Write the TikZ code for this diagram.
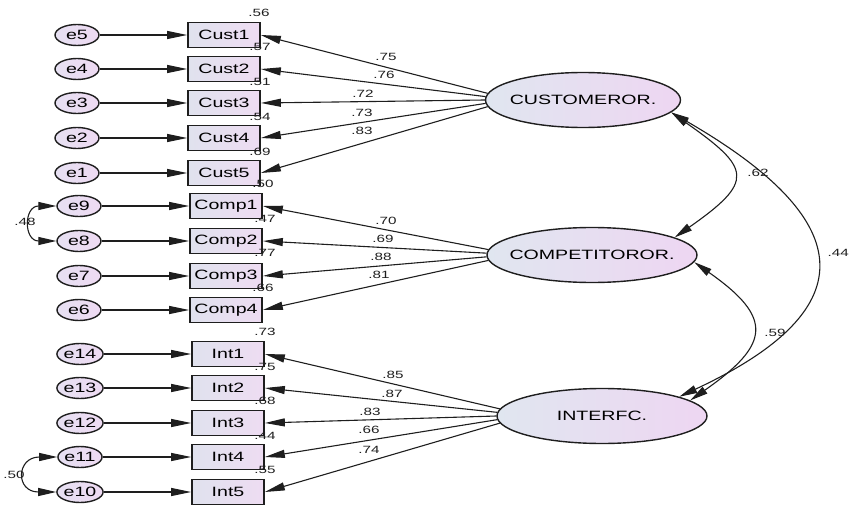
\documentclass[tikz,border=0pt]{standalone}
\usepackage{xcolor}
\usepackage{fontspec}
\setmainfont{Liberation Sans}[FakeStretch=1.45]
\usepackage{tikz}
\usetikzlibrary{shapes.geometric, arrows.meta, positioning, calc}
\definecolor{semline}{RGB}{30,30,30}
\definecolor{boxleft}{RGB}{224,226,238}
\definecolor{boxright}{RGB}{238,220,242}
\definecolor{errleft}{RGB}{230,224,242}
\definecolor{errright}{RGB}{238,218,242}
\definecolor{latleft}{RGB}{224,230,240}
\definecolor{latright}{RGB}{238,214,242}

\begin{document}
\begin{tikzpicture}[
  x=1pt, y=1pt,
  errnode/.style={ellipse, draw=semline, line width=1.4pt, minimum width=44pt, minimum height=21pt, inner sep=0pt, left color=errleft, right color=errright, font=\fontsize{13.5pt}{15pt}\selectfont},
  obsbox/.style={rectangle, draw=semline, line width=1.7pt, minimum width=72pt, minimum height=25pt, inner sep=0pt, left color=boxleft, right color=boxright, font=\fontsize{13.5pt}{15pt}\selectfont},
  latent/.style={ellipse, draw=semline, line width=1.4pt, minimum height=55pt, inner xsep=-14pt, inner ysep=0pt, left color=latleft, right color=latright, font=\fontsize{13.5pt}{15pt}\selectfont},
  lbl/.style={inner sep=0pt, text=semline, font=\fontsize{10.5pt}{11pt}\selectfont},
  arr/.style={-{Triangle[length=20pt, width=8pt]}, line width=1.1pt, semline},
  cov/.style={{Triangle[length=18pt, width=8pt]}-{Triangle[length=18pt, width=8pt]}, line width=1.1pt, semline}
]
  \useasboundingbox (0,0) rectangle (849,-508);
  % Latent factors
  \node[latent, minimum width=195pt] (cust) at (583,-100) {CUSTOMEROR.};
  \node[latent, minimum width=210pt] (comp) at (592,-255) {COMPETITOROR.};
  \node[latent, minimum width=210pt] (intf) at (602,-416) {INTERFC.};
  % Customer items
  \node[obsbox] (cust1) at (224,-35) {Cust1};
  \node[obsbox] (cust2) at (224,-69) {Cust2};
  \node[obsbox] (cust3) at (224,-103) {Cust3};
  \node[obsbox] (cust4) at (224,-138) {Cust4};
  \node[obsbox] (cust5) at (224,-173) {Cust5};
  \node[errnode] (e5) at (77,-35) {e5};
  \node[errnode] (e4) at (77,-69) {e4};
  \node[errnode] (e3) at (77,-103) {e3};
  \node[errnode] (e2) at (77,-138) {e2};
  \node[errnode] (e1) at (77,-173) {e1};
  % Competitor items
  \node[obsbox] (comp1) at (226,-206) {Comp1};
  \node[obsbox] (comp2) at (226,-241) {Comp2};
  \node[obsbox] (comp3) at (226,-276) {Comp3};
  \node[obsbox] (comp4) at (226,-310) {Comp4};
  \node[errnode] (e9) at (79,-206) {e9};
  \node[errnode] (e8) at (79,-241) {e8};
  \node[errnode] (e7) at (79,-276) {e7};
  \node[errnode] (e6) at (79,-310) {e6};
  % Interfunctional items
  \node[obsbox] (int1) at (228,-354) {Int1};
  \node[obsbox] (int2) at (228,-388) {Int2};
  \node[obsbox] (int3) at (228,-423) {Int3};
  \node[obsbox] (int4) at (228,-457) {Int4};
  \node[obsbox] (int5) at (228,-492) {Int5};
  \node[errnode] (e14) at (80,-354) {e14};
  \node[errnode] (e13) at (80,-388) {e13};
  \node[errnode] (e12) at (80,-423) {e12};
  \node[errnode] (e11) at (80,-457) {e11};
  \node[errnode] (e10) at (80,-492) {e10};
  % Error arrows
  \draw[arr] (e5) -- (cust1);
  \draw[arr] (e4) -- (cust2);
  \draw[arr] (e3) -- (cust3);
  \draw[arr] (e2) -- (cust4);
  \draw[arr] (e1) -- (cust5);
  \draw[arr] (e9) -- (comp1);
  \draw[arr] (e8) -- (comp2);
  \draw[arr] (e7) -- (comp3);
  \draw[arr] (e6) -- (comp4);
  \draw[arr] (e14) -- (int1);
  \draw[arr] (e13) -- (int2);
  \draw[arr] (e12) -- (int3);
  \draw[arr] (e11) -- (int4);
  \draw[arr] (e10) -- (int5);
  % Loadings
  \draw[arr] (cust.176) -- (cust1.east);
  \draw[arr] (cust.178) -- (cust2.east);
  \draw[arr] (cust.180) -- (cust3.east);
  \draw[arr] (cust.182) -- (cust4.east);
  \draw[arr] (cust.184) -- (cust5.east);
  \draw[arr] (comp.177) -- (comp1.east);
  \draw[arr] (comp.179) -- (comp2.east);
  \draw[arr] (comp.181) -- (comp3.east);
  \draw[arr] (comp.183) -- (comp4.east);
  \draw[arr] (intf.176) -- (int1.east);
  \draw[arr] (intf.178) -- (int2.east);
  \draw[arr] (intf.180) -- (int3.east);
  \draw[arr] (intf.182) -- (int4.east);
  \draw[arr] (intf.184) -- (int5.east);
  \node[lbl] (l1) at (386,-57) {.75};
  \node[lbl] (l2) at (384,-75) {.76};
  \node[lbl] (l3) at (363,-94) {.72};
  \node[lbl] (l4) at (362,-113) {.73};
  \node[lbl] (l5) at (362,-131) {.83};
  \node[lbl] (l6) at (386,-221) {.70};
  \node[lbl] (l7) at (383,-239) {.69};
  \node[lbl] (l8) at (381,-257) {.88};
  \node[lbl] (l9) at (379,-275) {.81};
  \node[lbl] (l10) at (393,-375) {.85};
  \node[lbl] (l11) at (392,-394) {.87};
  \node[lbl] (l12) at (370,-412) {.83};
  \node[lbl] (l13) at (369,-430) {.66};
  \node[lbl] (l14) at (369,-450) {.74};
  % Squared multiple correlations
  \node[lbl] (r1) at (259,-13) {.56};
  \node[lbl] (r2) at (260,-47) {.57};
  \node[lbl] (r3) at (260,-82) {.51};
  \node[lbl] (r4) at (260,-117) {.54};
  \node[lbl] (r5) at (260,-152) {.69};
  \node[lbl] (r6) at (263,-184) {.50};
  \node[lbl] (r7) at (265,-219) {.47};
  \node[lbl] (r8) at (265,-253) {.77};
  \node[lbl] (r9) at (263,-288) {.66};
  \node[lbl] (r10) at (265,-332) {.73};
  \node[lbl] (r11) at (265,-367) {.75};
  \node[lbl] (r12) at (265,-401) {.68};
  \node[lbl] (r13) at (265,-436) {.44};
  \node[lbl] (r14) at (265,-470) {.55};
  % Error covariances
  \draw[cov] (e9.west) to[out=180, in=180, looseness=2.4] (e8.west);
  \node[lbl] (c98) at (25,-222) {.48};
  \draw[cov] (e11.west) to[out=180, in=180, looseness=3] (e10.west);
  \node[lbl] (c1110) at (14,-475) {.50};
  % Factor covariances
  \draw[cov] (cust.-8) to[out=-35, in=35, looseness=2] (comp.12);
  \node[lbl] (fc1) at (758,-173) {.62};
  \draw[cov] (comp.-4) to[out=-35, in=35, looseness=1.8] (intf.10);
  \node[lbl] (fc2) at (775,-333) {.59};
  \draw[cov] (cust.-8) to[out=-30, in=25, looseness=1.9] (intf.14);
  \node[lbl, anchor=east] (fc3) at (849,-253) {.44};
\end{tikzpicture}
\end{document}
